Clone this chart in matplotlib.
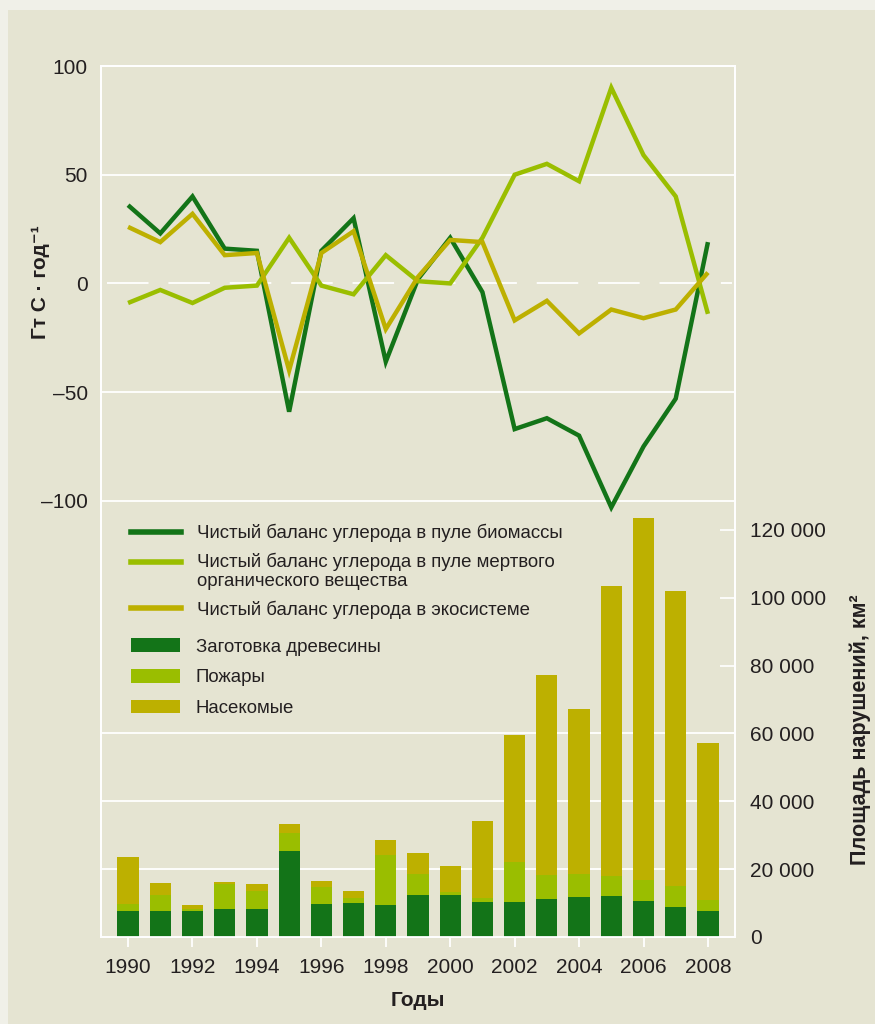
import numpy as np
import matplotlib; matplotlib.use("Agg")
import matplotlib.pyplot as plt
from matplotlib.lines import Line2D
from matplotlib.patches import Patch, Rectangle

plt.rcParams["font.family"]=["Liberation Sans","DejaVu Sans"]

YEARS=list(range(1990,2009))
# Гт C/год
BIOMASS=[36,23,40,16,15,-59,15,30,-36,2,21,-4,-67,-62,-70,-103,-75,-53,19]
DEAD=[-9,-3,-9,-2,-1,21,-1,-5,13,1,0,21,50,55,47,90,59,40,-14]
ECO=[26,19,32,13,14,-40,14,24,-21,3,20,19,-17,-8,-23,-12,-16,-12,5]
# км²
HARVEST=[7700,7700,7700,8300,8300,25400,9700,10000,9400,12400,12400,10300,10300,11200,11800,12100,10600,8900,7700]
FIRE=[2100,4800,600,7400,5300,5300,4900,1600,14800,6300,900,1300,11800,7000,6900,6000,6300,6100,3200]
INSECTS=[13800,3400,1100,500,2000,2600,1900,2000,4400,6100,7600,22600,37500,59100,48600,85400,106700,87000,46300]

LINE_LABELS=["Чистый баланс углерода в пуле биомассы",
             "Чистый баланс углерода в пуле мертвого\nорганического вещества",
             "Чистый баланс углерода в экосистеме"]
BAR_LABELS=["Заготовка древесины","Пожары","Насекомые"]
LEFT_TICKS=[-100,-50,0,50,100]
RIGHT_TICKS=[0,20000,40000,60000,80000,100000,120000]

DKG="#137418"; LTG="#9abe00"; OLV="#bdb000"
BG="#e5e4d2"; EDGE="#f0f0e8"; TXT="#231f20"

fig=plt.figure(figsize=(8.75,10.24),dpi=100,facecolor=EDGE)
fig.patches.append(Rectangle((8/875,0),1,1-10/1024,transform=fig.transFigure,
                             facecolor=BG,edgecolor="none",zorder=-10))
ax=fig.add_axes([101/875,87/1024,634/875,871/1024])
axr=ax.twinx()
ax.set_zorder(axr.get_zorder()+1); ax.patch.set_visible(False); axr.patch.set_visible(False)

x=np.array(YEARS)
# столбцы
h=np.array(HARVEST); f=np.array(FIRE); ins=np.array(INSECTS)
axr.bar(x,h,width=0.66,color=DKG,zorder=3)
axr.bar(x,f,width=0.66,bottom=h,color=LTG,zorder=3)
axr.bar(x,ins,width=0.66,bottom=h+f,color=OLV,zorder=3)
axr.set_ylim(0,256800)
for v in [20000,40000,60000]: axr.axhline(v,color="white",lw=1.3,zorder=1)
axr.set_yticks(RIGHT_TICKS)
axr.set_yticklabels([f"{v:,}".replace(","," ") for v in RIGHT_TICKS],fontsize=15,color=TXT)
axr.tick_params(axis="y",direction="in",length=11,width=1.2,color="white",pad=11)
axr.set_ylabel("Площадь нарушений, км²",fontsize=15.5,fontweight="bold",color=TXT)
axr.yaxis.set_label_coords(1.18,0.238)

# линии
for vals,c in zip([BIOMASS,DEAD,ECO],[DKG,LTG,OLV]):
    ax.plot(x,vals,color=c,lw=3.2,solid_joinstyle="miter",solid_capstyle="butt",zorder=4)
ax.set_ylim(-300.6,100); ax.set_xlim(1989.16,2008.84)
for v in [50,-50,-100]: ax.axhline(v,color="white",lw=1.3,zorder=1)
ax.axhline(0,xmin=0.01,xmax=0.995,color="white",lw=1.3,ls=(0,(23,11)),zorder=1)
ax.set_yticks(LEFT_TICKS)
ax.set_yticklabels([str(v).replace("-","–") for v in LEFT_TICKS],fontsize=15,color=TXT)
ax.tick_params(axis="y",length=0,pad=9.5)
ax.set_ylabel("Гт C · год⁻¹",fontsize=15,fontweight="bold",color=TXT)
ax.yaxis.set_label_coords(-0.08,0.752)
ax.set_xticks(YEARS[::2])
ax.tick_params(axis="x",direction="out",length=7,width=1.3,color="white",labelsize=15,labelcolor=TXT,pad=8)
ax.set_xlabel("Годы",fontsize=15,fontweight="bold",color=TXT,labelpad=10)
for a in (ax,axr):
    for s in a.spines.values(): s.set_color("white"); s.set_linewidth(1.3)

# легенды
FS=13.4
lh=[Line2D([],[],color=c,lw=4) for c in (DKG,LTG,OLV)]
leg1=ax.legend(lh,LINE_LABELS,loc="upper left",bbox_to_anchor=(0.035,0.4828),frameon=False,
               fontsize=FS,handlelength=2.7,handletextpad=0.86,labelspacing=0.55,borderaxespad=0)
for t in leg1.get_texts(): t.set_color(TXT); t.set_linespacing(1.18)
hl=leg1.legend_handles[1]; hl.set_ydata(np.asarray(hl.get_ydata())+7)  # маркер на уровне первой строки
ax.add_artist(leg1)
bh=[Patch(facecolor=c,edgecolor="none") for c in (DKG,LTG,OLV)]
leg2=ax.legend(bh,BAR_LABELS,loc="upper left",bbox_to_anchor=(0.035,0.3513),frameon=False,
               fontsize=FS,handlelength=2.65,handleheight=0.75,handletextpad=0.86,labelspacing=0.71,borderaxespad=0)
for t in leg2.get_texts(): t.set_color(TXT)

fig.savefig("out.png",dpi=100,facecolor=fig.get_facecolor())
